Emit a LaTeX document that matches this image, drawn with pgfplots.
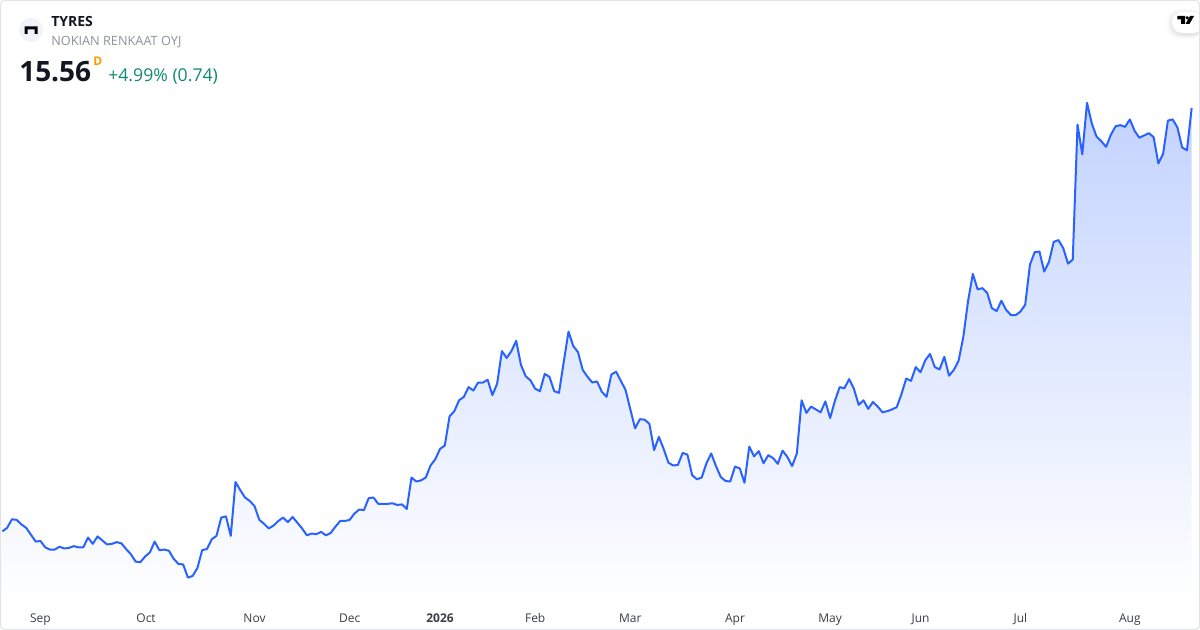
\documentclass[border=0pt]{standalone}
\usepackage{fontspec}
\setmainfont{Open Sans}
\usepackage{pgfplots}
\usepackage{pgfplotstable}
\pgfplotsset{compat=1.18}
\definecolor{tvline}{HTML}{2962FF}
\definecolor{tvfill}{HTML}{C3D3FF}
\definecolor{tvgreen}{HTML}{0F8A75}
\definecolor{tvgrey}{HTML}{8F929B}
\definecolor{tvorange}{HTML}{FF9800}
\definecolor{tvtext}{HTML}{131722}
\definecolor{tvlabel}{HTML}{3A3D45}
\definecolor{tvborder}{HTML}{E0E3EB}
\definecolor{tvlogo}{HTML}{F0F3FA}
\pgfplotstableread[row sep=\\]{
i p \\
0 8.16 \\ 1 8.22 \\ 2 8.37 \\ 3 8.36 \\ 4 8.28 \\ 5 8.22 \\ 6 8.10 \\ 7 7.98 \\ 8 7.99 \\ 9 7.88 \\
10 7.84 \\ 11 7.84 \\ 12 7.89 \\ 13 7.86 \\ 14 7.87 \\ 15 7.90 \\ 16 7.88 \\ 17 7.88 \\ 18 8.05 \\ 19 7.94 \\
20 8.07 \\ 21 8.00 \\ 22 7.93 \\ 23 7.94 \\ 24 7.97 \\ 25 7.95 \\ 26 7.85 \\ 27 7.76 \\ 28 7.63 \\ 29 7.62 \\
30 7.72 \\ 31 7.79 \\ 32 7.98 \\ 33 7.83 \\ 34 7.84 \\ 35 7.82 \\ 36 7.68 \\ 37 7.59 \\ 38 7.58 \\ 39 7.35 \\
40 7.38 \\ 41 7.52 \\ 42 7.83 \\ 43 7.85 \\ 44 8.02 \\ 45 8.08 \\ 46 8.40 \\ 47 8.42 \\ 48 8.08 \\ 49 9.02 \\
50 8.88 \\ 51 8.75 \\ 52 8.69 \\ 53 8.60 \\ 54 8.36 \\ 55 8.29 \\ 56 8.21 \\ 57 8.26 \\ 58 8.34 \\ 59 8.40 \\
60 8.32 \\ 61 8.41 \\ 62 8.31 \\ 63 8.21 \\ 64 8.09 \\ 65 8.12 \\ 66 8.11 \\ 67 8.15 \\ 68 8.09 \\ 69 8.13 \\
70 8.24 \\ 71 8.34 \\ 72 8.34 \\ 73 8.36 \\ 74 8.47 \\ 75 8.54 \\ 76 8.53 \\ 77 8.74 \\ 78 8.75 \\ 79 8.64 \\
80 8.64 \\ 81 8.64 \\ 82 8.65 \\ 83 8.62 \\ 84 8.63 \\ 85 8.55 \\ 86 9.10 \\ 87 9.03 \\ 88 9.05 \\ 89 9.10 \\
90 9.31 \\ 91 9.42 \\ 92 9.60 \\ 93 9.66 \\ 94 10.17 \\ 95 10.26 \\ 96 10.45 \\ 97 10.51 \\ 98 10.68 \\ 99 10.62 \\
100 10.76 \\ 101 10.76 \\ 102 10.81 \\ 103 10.54 \\ 104 10.74 \\ 105 11.31 \\ 106 11.19 \\ 107 11.31 \\ 108 11.49 \\ 109 11.07 \\
110 10.87 \\ 111 10.80 \\ 112 10.65 \\ 113 10.61 \\ 114 10.91 \\ 115 10.86 \\ 116 10.61 \\ 117 10.58 \\ 118 11.12 \\ 119 11.65 \\
120 11.40 \\ 121 11.29 \\ 122 10.98 \\ 123 10.86 \\ 124 10.76 \\ 125 10.78 \\ 126 10.60 \\ 127 10.51 \\ 128 10.90 \\ 129 10.95 \\
130 10.79 \\ 131 10.63 \\ 132 10.29 \\ 133 9.96 \\ 134 10.12 \\ 135 10.11 \\ 136 10.04 \\ 137 9.58 \\ 138 9.81 \\ 139 9.60 \\
140 9.36 \\ 141 9.31 \\ 142 9.32 \\ 143 9.53 \\ 144 9.50 \\ 145 9.14 \\ 146 9.07 \\ 147 9.10 \\ 148 9.35 \\ 149 9.52 \\
150 9.30 \\ 151 9.11 \\ 152 9.04 \\ 153 9.03 \\ 154 9.29 \\ 155 9.26 \\ 156 9.01 \\ 157 9.64 \\ 158 9.47 \\ 159 9.56 \\
160 9.35 \\ 161 9.49 \\ 162 9.44 \\ 163 9.34 \\ 164 9.57 \\ 165 9.46 \\ 166 9.30 \\ 167 9.52 \\ 168 10.45 \\ 169 10.23 \\
170 10.34 \\ 171 10.29 \\ 172 10.24 \\ 173 10.43 \\ 174 10.14 \\ 175 10.44 \\ 176 10.68 \\ 177 10.66 \\ 178 10.82 \\ 179 10.65 \\
180 10.37 \\ 181 10.45 \\ 182 10.30 \\ 183 10.42 \\ 184 10.34 \\ 185 10.24 \\ 186 10.26 \\ 187 10.29 \\ 188 10.33 \\ 189 10.56 \\
190 10.83 \\ 191 10.79 \\ 192 11.03 \\ 193 10.94 \\ 194 11.15 \\ 195 11.26 \\ 196 11.03 \\ 197 10.99 \\ 198 11.21 \\ 199 10.88 \\
200 10.98 \\ 201 11.14 \\ 202 11.56 \\ 203 12.19 \\ 204 12.66 \\ 205 12.39 \\ 206 12.41 \\ 207 12.33 \\ 208 12.06 \\ 209 12.01 \\
210 12.19 \\ 211 12.03 \\ 212 11.94 \\ 213 11.94 \\ 214 12.00 \\ 215 12.12 \\ 216 12.82 \\ 217 13.04 \\ 218 13.05 \\ 219 12.70 \\
220 12.87 \\ 221 13.22 \\ 222 13.25 \\ 223 13.11 \\ 224 12.84 \\ 225 12.91 \\ 226 15.27 \\ 227 14.75 \\ 228 15.65 \\ 229 15.29 \\
230 15.06 \\ 231 14.98 \\ 232 14.88 \\ 233 15.09 \\ 234 15.24 \\ 235 15.26 \\ 236 15.23 \\ 237 15.36 \\ 238 15.16 \\ 239 15.04 \\
240 15.08 \\ 241 15.12 \\ 242 15.05 \\ 243 14.59 \\ 244 14.76 \\ 245 15.34 \\ 246 15.36 \\ 247 15.22 \\ 248 14.87 \\ 249 14.82 \\
250 15.56 \\
}\pricetable
\begin{document}
\begin{tikzpicture}
\path[use as bounding box,fill=white] (0,0) rectangle (900pt,472.5pt);
\begin{axis}[
  at={(0pt,19.5pt)}, anchor=south west,
  scale only axis, width=900pt, height=453pt,
  xmin=-0.505, xmax=251.75, ymin=6.889, ymax=17.448,
  axis line style={draw=none},
  major tick length=0pt,
  ytick=\empty,
  xtick={8,30.2,53,73,92,112,132,154,174,193,214,237},
  xticklabels={Sep,Oct,Nov,Dec,\textbf{2026},Feb,Mar,Apr,May,Jun,Jul,Aug},
  xticklabel style={font=\fontsize{9pt}{11pt}\selectfont, text=tvlabel, anchor=base, inner sep=0pt, yshift=-14.2pt},
]
\addplot[draw=none, top color=tvfill, bottom color=white] table[x=i,y=p] {\pricetable} \closedcycle;
\addplot[tvline, line width=1.5pt, line join=round, no marks] table[x=i,y=p] {\pricetable};
\end{axis}
\begin{scope}[shift={(0pt,472.5pt)}, x=0.75pt, y=-0.75pt]
  % border
  \draw[tvborder, line width=0.75pt, rounded corners=3pt] (0.5,0.5) rectangle (1199.5,629.5);
  % logo
  \fill[tvlogo] (31,30) circle (9pt);
  \fill[black] (24.5,26.5) -- (37.5,26.5) -- (37.5,34) -- (34.5,34) -- (34.5,29.5) -- (27.5,29.5) -- (27.5,34) -- (24.5,34) -- cycle;
  % header text
  \node[anchor=base west, inner sep=0pt, text=tvtext] at (51,26.5) {\fontsize{10.5pt}{12pt}\selectfont\bfseries TYRES};
  \node[anchor=base west, inner sep=0pt, text=tvgrey] at (51,45.5) {\fontsize{9.55pt}{12pt}\selectfont NOKIAN RENKAAT OYJ};
  \node[anchor=base west, inner sep=0pt, text=tvtext] at (19,81.5) {\fontsize{21pt}{24pt}\selectfont\bfseries 15.56};
  \node[anchor=base west, inner sep=0pt, text=tvorange] at (93,66) {\fontsize{9pt}{11pt}\selectfont\bfseries D};
  \node[anchor=base west, inner sep=0pt, text=tvgreen] at (108,81.5) {\fontsize{13.25pt}{16pt}\selectfont +4.99\% (0.74)};
  % TradingView badge
  \foreach \o/\g in {0.012/5,0.015/4,0.02/3,0.025/2,0.03/1}{
    \fill[black,opacity=\o,rounded corners=9pt] (1172-\g,12-\g+1.5) rectangle (1203,33+\g+1.5);
  }
  \fill[white,rounded corners=7.5pt] (1172,12) rectangle (1203,33);
  \fill[black] (1177.3,16) -- (1185,16) -- (1185,24) -- (1181,24) -- (1181,19.5) -- (1177.3,19.5) -- cycle;
  \fill[black] (1187.2,17.8) circle (1.35pt);
  \fill[black] (1190,16) -- (1194,16) -- (1189.5,24) -- (1185.5,24) -- cycle;
  \draw[tvborder, line width=0.75pt] (1199.5,3) -- (1199.5,627);
\end{scope}
\end{tikzpicture}
\end{document}
